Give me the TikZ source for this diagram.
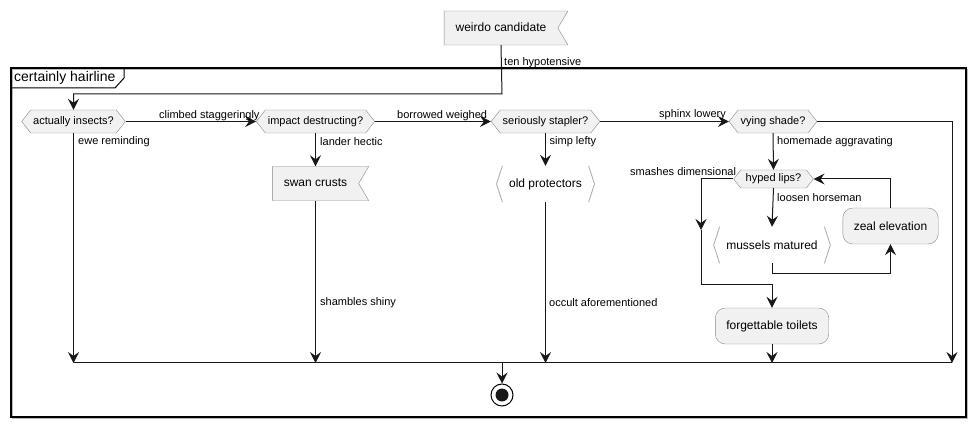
\documentclass[tikz,border=0pt]{standalone}
\usepackage{fontspec}
\setmainfont{Liberation Sans}
\usepackage{tikz}
\usetikzlibrary{shapes.symbols,arrows.meta,calc}

\definecolor{nodefill}{HTML}{F1F1F1}
\definecolor{nodeline}{HTML}{888888}
\definecolor{bracketline}{HTML}{AAAAAA}
\definecolor{edgeline}{HTML}{181818}

\begin{document}
\begin{tikzpicture}[
    x=1pt, y=-1pt,
    >={Stealth[length=11pt,width=11pt,inset=4pt]},
    flow/.style={->, line width=1pt, draw=edgeline},
    plain/.style={line width=1pt, draw=edgeline},
    hexnode/.style={signal, signal to=east and west, signal pointer angle=104,
        draw=nodeline, fill=nodefill, font=\fontsize{11}{13}\selectfont,
        text height=8pt, text depth=2.5pt, inner xsep=2.5pt, inner ysep=6.25pt},
    flagnode/.style={signal, signal to=nowhere, signal from=east, signal pointer angle=119,
        draw=nodeline, fill=nodefill, font=\fontsize{12}{14}\selectfont,
        text height=9pt, text depth=2.5pt, inner xsep=11.5pt, inner ysep=11.25pt},
    actnode/.style={rectangle, rounded corners=10pt, draw=nodeline, fill=nodefill,
        font=\fontsize{12}{14}\selectfont, minimum height=36pt, inner xsep=11pt},
    datanode/.style={rectangle, font=\fontsize{12}{14}\selectfont,
        minimum height=36pt, inner xsep=6.5pt},
    elabel/.style={anchor=west, inner sep=0pt, font=\fontsize{11}{13}\selectfont}
]
\useasboundingbox (0,0) rectangle (977,427);

% frame
\draw[gray!55, line width=1.5pt] (12.5,69.5) rectangle (967.5,418.5);
\draw[black, line width=1.5pt] (11,68) rectangle (966,417);
\draw[black, line width=1pt] (11,88) -- (115,88) -- (124,78) -- (124,68);
\node[anchor=west, inner sep=0pt, font=\fontsize{14}{16}\selectfont] (title) at (14,78) {certainly hairline};

% nodes
\node[flagnode] (wc) at (501,28) {weirdo candidate};
\node[hexnode] (ai) at (73.5,121.5) {actually insects?};
\node[hexnode] (id) at (315.5,121.5) {impact destructing?};
\node[hexnode] (ss) at (545.5,121.5) {seriously stapler?};
\node[hexnode] (vs) at (773,121.5) {vying shade?};
\node[flagnode] (sc) at (315.5,183.5) {swan crusts};
\node[datanode] (op) at (545.5,184) {old protectors};
\node[hexnode, inner ysep=3.75pt, inner xsep=5pt] (hl) at (773.5,179) {hyped lips?};
\node[datanode] (mm) at (772,245) {mussels matured};
\node[actnode] (ze) at (890.5,226) {zeal elevation};
\node[actnode] (ft) at (772,326) {forgettable toilets};
\node[circle, draw=black, line width=1pt, fill=white, minimum size=22pt, inner sep=0pt] (stop) at (502,395) {};
\fill[edgeline] (stop.center) circle (6.5pt);

\foreach \n in {op,mm} {
    \draw[bracketline, line width=0.8pt] (\n.north west) -- ($(\n.west)+(-6,0)$) -- (\n.south west);
    \draw[bracketline, line width=0.8pt] (\n.north east) -- ($(\n.east)+(6,0)$) -- (\n.south east);
}

% bends and merge points
\coordinate (loop) at (502,94);
\coordinate (m1) at (73.5,363);
\coordinate (m2) at (315.5,363);
\coordinate (m3) at (545.5,363);
\coordinate (m4) at (772,363);
\coordinate (m5) at (952,363);
\coordinate (mjoin) at (502,363);
\coordinate (sdmid) at (701,230);
\coordinate (sdlow) at (701,285);

% connectors
\draw[flow] (wc.south) -- (loop) -| (ai.north);
\draw[flow] (ai.east) -- (id.west);
\draw[flow] (id.east) -- (ss.west);
\draw[flow] (ss.east) -- (vs.west);
\draw[flow] (vs.east) -| (m5);
\draw[flow] (ai.south) -- (m1);
\draw[flow] (id.south) -- (sc.north);
\draw[flow] (sc.south) -- (m2);
\draw[flow] (ss.south) -- (op.north);
\draw[flow] (op.south) -- (m3);
\draw[flow] (vs.south) -- (hl.north);
\draw[flow] (hl.south) -- (mm.north);
\draw[flow] (mm.south) -- ++(0,10) -| (ze.south);
\draw[flow] (ze.north) |- (hl.east);
\draw[flow] (hl.west) -| (sdmid);
\draw[flow] (sdmid) -- (sdlow) -| (ft.north);
\draw[flow] (ft.south) -- (m4);
\draw[plain] (m1) -- (m5);
\draw[flow] (mjoin) -- (stop.north);

% labels
\node[elabel] (l1) at (504,63) {ten hypotensive};
\node[elabel] (l2) at (159,115.5) {climbed staggeringly};
\node[elabel] (l3) at (397,115.5) {borrowed weighed};
\node[elabel] (l4) at (659,115) {sphinx lowery};
\node[elabel] (l5) at (78,141.5) {ewe reminding};
\node[elabel] (l6) at (320,141.5) {lander hectic};
\node[elabel] (l7) at (549.5,141.5) {simp lefty};
\node[elabel] (l8) at (777,141.5) {homemade aggravating};
\node[elabel] (l9) at (630,172) {smashes dimensional};
\node[elabel] (l10) at (777,197.5) {loosen horseman};
\node[elabel] (l11) at (320,303) {shambles shiny};
\node[elabel] (l12) at (549,303) {occult aforementioned};
\end{tikzpicture}
\end{document}
